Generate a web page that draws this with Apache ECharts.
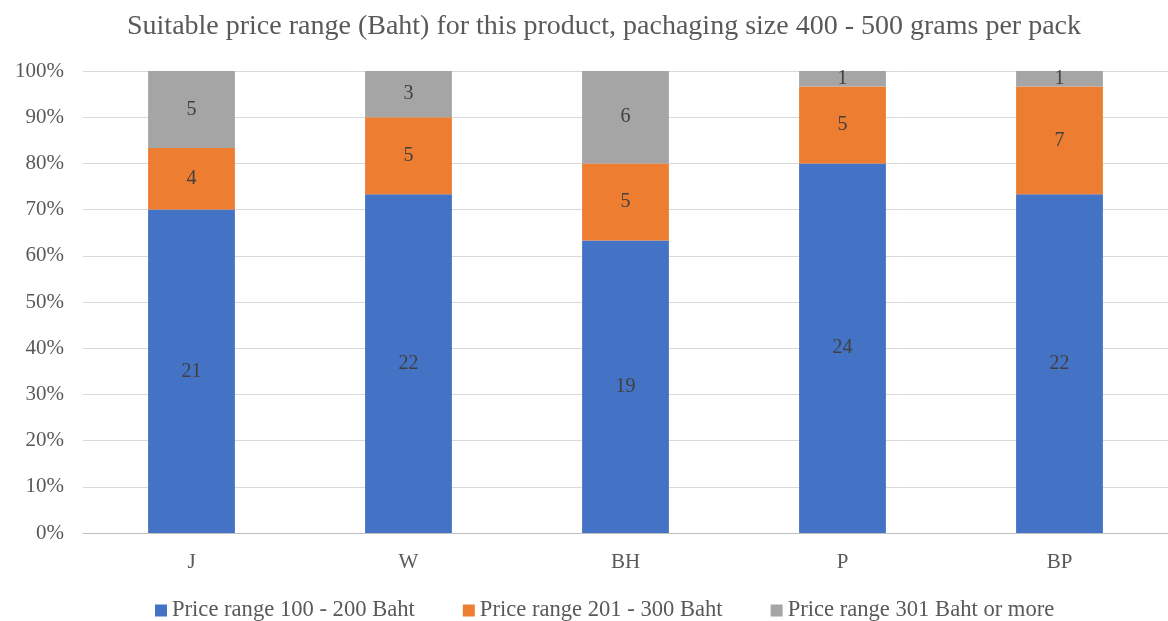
<!DOCTYPE html>
<html><head><meta charset="utf-8">
<script src="https://cdn.jsdelivr.net/npm/echarts@6/dist/echarts.min.js"></script>
<style>html,body{margin:0;padding:0;background:#fff}#c{width:1168px;height:621px}</style>
</head><body><div id="c"></div>
<script>
var categories = ['J','W','BH','P','BP'];
var low = [21,22,19,24,22];
var mid = [4,5,5,5,7];
var high = [5,3,6,1,1];
var seriesNames = ['Price range 100 - 200 Baht','Price range 201 - 300 Baht','Price range 301 Baht or more'];
var yTicks = [0,10,20,30,40,50,60,70,80,90,100];

var totals = categories.map(function(_, i){ return low[i]+mid[i]+high[i]; });
function pct(arr){ return arr.map(function(v,i){ return {value: v/totals[i]*100, raw: v}; }); }
var colors = ['#4472c4','#ed7d31','#a5a5a5'];
var font = 'Liberation Serif';
function mk(name, arr, color){
  return {
    name: name, type: 'bar', stack: 'a', data: pct(arr), barWidth: '40%',
    itemStyle: {color: color},
    label: {show: true, position: 'inside', color: '#404040', fontFamily: font, fontSize: 20,
      formatter: function(p){ return p.data.raw; }}
  };
}
var chart = echarts.init(document.getElementById('c'));
chart.setOption({
  animation: false,
  title: {text: 'Suitable price range (Baht) for this product, pachaging size 400 - 500 grams per pack',
    left: 122, top: 8, textStyle: {fontFamily: font, fontSize: 28, fontWeight: 'normal', color: '#595959'}},
  grid: {left: 83, right: -5, top: 71, bottom: 88},
  legend: {left: 150, top: 594, itemWidth: 12, itemHeight: 12, itemGap: 48, icon: 'rect',
    textStyle: {fontFamily: font, fontSize: 22.6, color: '#595959'}},
  xAxis: {type: 'category', data: categories,
    axisLine: {lineStyle: {color: '#bfbfbf'}}, axisTick: {show: false},
    axisLabel: {fontFamily: font, fontSize: 21, color: '#595959', margin: 19}},
  yAxis: {type: 'value', min: 0, max: 100, interval: 10,
    axisLine: {show: false}, axisTick: {show: false},
    splitLine: {lineStyle: {color: '#d9d9d9'}},
    axisLabel: {fontFamily: font, fontSize: 21, color: '#595959', margin: 19,
      formatter: function(v){ return yTicks.indexOf(v) >= 0 ? v + '%' : ''; }}},
  series: [mk(seriesNames[0], low, colors[0]), mk(seriesNames[1], mid, colors[1]), mk(seriesNames[2], high, colors[2])]
});
</script></body></html>
